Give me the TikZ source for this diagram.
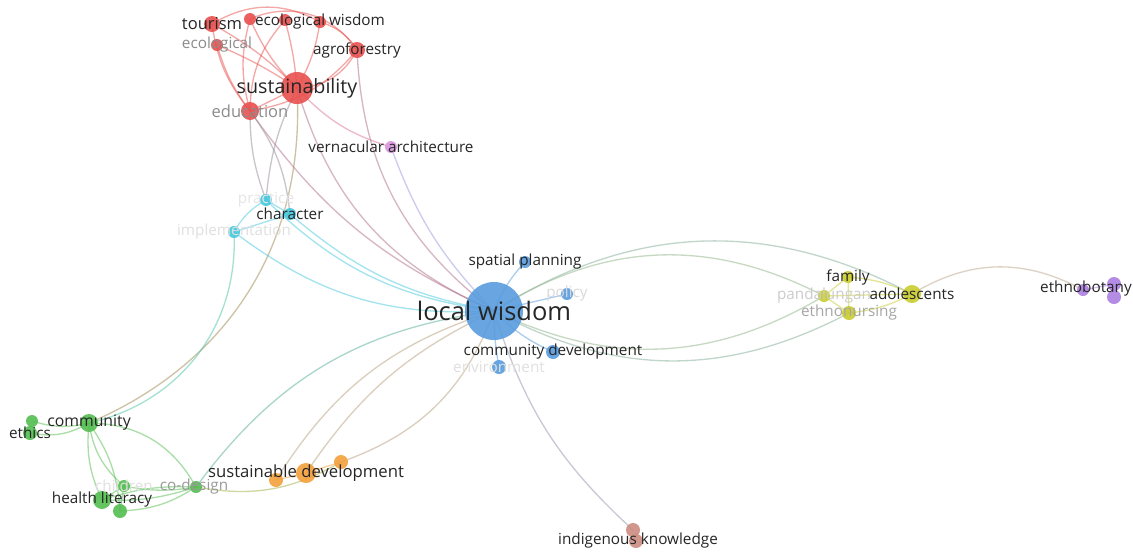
\documentclass[tikz,border=0pt]{standalone}
\usepackage{fontspec}
\setmainfont{Open Sans}
\usetikzlibrary{backgrounds}
\pgfdeclarelayer{links}
\pgfsetlayers{background,links,main}

\definecolor{cRed}{RGB}{232,80,78}
\definecolor{cGreen}{RGB}{84,190,80}
\definecolor{cBlue}{RGB}{88,156,222}
\definecolor{cYellow}{RGB}{200,204,46}
\definecolor{cPurple}{RGB}{172,128,226}
\definecolor{cCyan}{RGB}{70,200,222}
\definecolor{cOrange}{RGB}{244,160,60}
\definecolor{cBrown}{RGB}{204,140,128}
\definecolor{cPink}{RGB}{218,150,222}

\begin{document}
\begin{tikzpicture}[
    x=0.02cm, y=-0.02cm,
    dot/.style={circle, inner sep=0pt, draw=none, fill opacity=0.9, minimum size=#1*0.02cm},
    lbl/.style={font=\fontsize{8.7}{10}\selectfont, text=black!85, inner sep=0pt},
    dim/.style={lbl, text=black!#1},
    link/.style={draw=#1, line width=0.75pt, draw opacity=0.5}
]
\begin{pgfonlayer}{background}
\fill[white] (0,0) rectangle (1133,552);
\end{pgfonlayer}
\useasboundingbox (0,0) rectangle (1133,552);

% keyword circles
\node[dot=16, fill=cRed] (tourism) at (212,24) {};
\node[dot=12, fill=cRed] (ecowis1) at (250,19) {};
\node[dot=12, fill=cRed] (ecowis2) at (285,20) {};
\node[dot=12, fill=cRed] (ecowis) at (320,22) {};
\node[dot=12, fill=cRed] (ecolog) at (217,45) {};
\node[dot=16, fill=cRed] (agrofor) at (357,50) {};
\node[dot=32, fill=cRed] (sustain) at (297,88) {};
\node[dot=18, fill=cRed] (educ) at (250,111) {};
\node[dot=12, fill=cPink] (vernac) at (391,147) {};

\node[dot=12, fill=cCyan] (practice) at (266,200) {};
\node[dot=12, fill=cCyan] (charac) at (290,214) {};
\node[dot=12, fill=cCyan] (implem) at (234,232) {};

\node[dot=58, fill=cBlue] (locwis) at (494,311) {};
\node[dot=12, fill=cBlue] (spatial) at (525,262) {};
\node[dot=12, fill=cBlue] (policy) at (567,294) {};
\node[dot=14, fill=cBlue] (comdev) at (553,352) {};
\node[dot=14, fill=cBlue] (environ) at (499,367) {};

\node[dot=12, fill=cYellow] (family) at (848,277) {};
\node[dot=12, fill=cYellow] (pandal) at (824,296) {};
\node[dot=18, fill=cYellow] (adolesc) at (912,294) {};
\node[dot=14, fill=cYellow] (ethnurs) at (849,313) {};

\node[dot=12, fill=cPurple] (ethbot) at (1083,290) {};
\node[dot=14, fill=cPurple] (ethbota) at (1114,284) {};
\node[dot=14, fill=cPurple] (ethbotb) at (1114,297) {};

\node[dot=12, fill=cGreen] (ethicsa) at (32,421) {};
\node[dot=14, fill=cGreen] (ethicsb) at (30,433) {};
\node[dot=18, fill=cGreen] (commun) at (89,423) {};
\node[dot=12, fill=cGreen] (children) at (124,486) {};
\node[dot=18, fill=cGreen] (health) at (102,500) {};
\node[dot=14, fill=cGreen] (healthb) at (120,511) {};
\node[dot=12, fill=cGreen] (codesign) at (196,487) {};

\node[dot=14, fill=cOrange] (susdeva) at (276,480) {};
\node[dot=20, fill=cOrange] (susdev) at (306,473) {};
\node[dot=14, fill=cOrange] (susdevb) at (341,462) {};

\node[dot=14, fill=cBrown] (indiga) at (633,530) {};
\node[dot=14, fill=cBrown] (indig) at (636,541) {};

% links
\begin{pgfonlayer}{links}
\draw[link=cRed] (tourism.center) to[bend left=8] (sustain.center);
\draw[link=cRed] (tourism.center) to[bend right=15] (educ.center);
\draw[link=cRed] (tourism.center) to[bend left=30] (ecowis.center);
\draw[link=cRed] (ecolog.center) to[bend left=5] (sustain.center);
\draw[link=cRed] (ecolog.center) to[bend right=10] (educ.center);
\draw[link=cRed] (ecowis1.center) to[bend right=10] (sustain.center);
\draw[link=cRed] (ecowis1.center) to[bend right=15] (educ.center);
\draw[link=cRed] (ecowis1.center) to[bend left=40] (agrofor.center);
\draw[link=cRed] (ecowis2.center) to[bend left=5] (sustain.center);
\draw[link=cRed] (ecowis2.center) to[bend right=20] (educ.center);
\draw[link=cRed] (ecowis.center) to[bend left=10] (sustain.center);
\draw[link=cRed] (ecowis.center) to[bend left=20] (agrofor.center);
\draw[link=cRed] (agrofor.center) to[bend left=30] (sustain.center);
\draw[link=cRed] (agrofor.center) to[bend left=20] (educ.center);
\draw[link=cRed] (sustain.center) -- (educ.center);
\draw[link=cRed!50!cPink] (sustain.center) to[bend right=15] (vernac.center);
\draw[link=cRed!60!cBlue] (sustain.center) to[bend right=25] (locwis.center);
\draw[link=cRed!60!cBlue] (agrofor.center) to[bend right=25] (locwis.center);
\draw[link=cRed!60!cBlue] (educ.center) to[bend right=15] (locwis.center);
\draw[link=cRed!50!cCyan] (educ.center) to[bend right=10] (practice.center);
\draw[link=cRed!50!cCyan] (educ.center) to[bend left=15] (charac.center);
\draw[link=cRed!50!cCyan] (sustain.center) to[bend right=10] (practice.center);
\draw[link=cRed!50!cGreen] (sustain.center) to[bend left=35] (commun.center);
\draw[link=cPink!50!cBlue] (vernac.center) to[bend right=12] (locwis.center);

\draw[link=cCyan] (practice.center) -- (charac.center);
\draw[link=cCyan] (practice.center) to[bend right=15] (implem.center);
\draw[link=cCyan] (implem.center) -- (charac.center);
\draw[link=cCyan] (implem.center) to[bend right=20] (locwis.center);
\draw[link=cCyan] (charac.center) to[bend right=15] (locwis.center);
\draw[link=cCyan] (practice.center) to[bend right=18] (locwis.center);
\draw[link=cCyan!60!cGreen] (implem.center) to[bend left=40] (commun.center);

\draw[link=cBlue] (locwis.center) to[bend left=10] (spatial.center);
\draw[link=cBlue] (locwis.center) -- (policy.center);
\draw[link=cBlue] (locwis.center) to[bend right=10] (comdev.center);
\draw[link=cBlue] (locwis.center) to[bend right=5] (environ.center);
\draw[link=cBlue!60!cYellow] (locwis.center) to[bend left=30] (adolesc.center);
\draw[link=cBlue!50!cYellow] (locwis.center) to[bend left=30] (pandal.center);
\draw[link=cBlue!50!cYellow] (locwis.center) to[bend right=28] (pandal.center);
\draw[link=cBlue!60!cYellow] (locwis.center) to[bend right=28] (ethnurs.center);
\draw[link=cBlue!50!cBrown] (locwis.center) to[bend right=15] (indiga.center);

\draw[link=cYellow] (pandal.center) -- (family.center);
\draw[link=cYellow] (pandal.center) -- (ethnurs.center);
\draw[link=cYellow] (family.center) to[bend left=10] (adolesc.center);
\draw[link=cYellow] (ethnurs.center) to[bend right=10] (adolesc.center);
\draw[link=cYellow] (family.center) -- (ethnurs.center);
\draw[link=cYellow] (pandal.center) -- (adolesc.center);
\draw[link=cYellow!50!cPurple] (adolesc.center) to[bend left=30] (ethbot.center);
\draw[link=cPurple] (ethbot.center) -- (ethbota.center);

\draw[link=cGreen] (ethicsa.center) to[bend right=15] (commun.center);
\draw[link=cGreen] (ethicsb.center) to[bend right=20] (commun.center);
\draw[link=cGreen] (commun.center) to[bend right=20] (children.center);
\draw[link=cGreen] (commun.center) to[bend right=15] (health.center);
\draw[link=cGreen] (commun.center) to[bend left=15] (healthb.center);
\draw[link=cGreen] (commun.center) to[bend left=30] (codesign.center);
\draw[link=cGreen] (children.center) to[bend right=10] (codesign.center);
\draw[link=cGreen] (health.center) to[bend right=10] (codesign.center);
\draw[link=cGreen] (health.center) to[bend left=10] (codesign.center);
\draw[link=cGreen] (healthb.center) to[bend right=15] (codesign.center);
\draw[link=cGreen] (children.center) -- (health.center);
\draw[link=cGreen] (children.center) -- (healthb.center);
\draw[link=cGreen!50!cBlue] (codesign.center) to[bend left=23] (locwis.center);
\draw[link=cGreen!50!cOrange] (codesign.center) to[bend right=20] (susdevb.center);

\draw[link=cOrange!60!cBlue] (susdeva.center) to[bend left=20] (locwis.center);
\draw[link=cOrange!60!cBlue] (susdev.center) to[bend left=15] (locwis.center);
\draw[link=cOrange!60!cBlue] (susdevb.center) to[bend right=25] (locwis.center);
\draw[link=cOrange] (susdeva.center) -- (susdev.center);
\draw[link=cOrange] (susdev.center) -- (susdevb.center);
\end{pgfonlayer}

% labels
\node[lbl, font=\fontsize{9.4}{11}\selectfont] (tourism-l) at (tourism) {tourism};
\node[lbl] (ecowis-l) at (ecowis) {ecological wisdom};
\node[dim=45] (ecolog-l) at (ecolog) {ecological};
\node[lbl] (agrofor-l) at (agrofor) {agroforestry};
\node[lbl, font=\fontsize{11.2}{13}\selectfont] (sustain-l) at (sustain) {sustainability};
\node[dim=45, font=\fontsize{9.4}{11}\selectfont] (educ-l) at (educ) {education};
\node[lbl] (vernac-l) at (vernac) {vernacular architecture};
\node[dim=10] (practice-l) at (practice) {practice};
\node[lbl] (charac-l) at (charac) {character};
\node[dim=12] (implem-l) at (implem) {implementation};
\node[lbl, font=\fontsize{14.5}{17}\selectfont] (locwis-l) at (locwis) {local wisdom};
\node[lbl] (spatial-l) at (spatial) {spatial planning};
\node[dim=15] (policy-l) at (policy) {policy};
\node[lbl] (comdev-l) at (comdev) {community development};
\node[dim=12] (environ-l) at (environ) {environment};
\node[lbl] (family-l) at (family) {family};
\node[dim=20] (pandal-l) at (pandal) {pandalungan};
\node[lbl] (adolesc-l) at (adolesc) {adolescents};
\node[dim=35] (ethnurs-l) at (ethnurs) {ethnonursing};
\node[lbl] (ethbot-l) at (1086,289) {ethnobotany};
\node[lbl] (ethics-l) at (ethicsb) {ethics};
\node[lbl, font=\fontsize{9}{11}\selectfont] (commun-l) at (commun) {community};
\node[dim=12] (children-l) at (children) {children};
\node[lbl] (health-l) at (health) {health literacy};
\node[dim=40] (codesign-l) at (194,487) {co-design};
\node[lbl, font=\fontsize{9.5}{11}\selectfont] (susdev-l) at (susdev) {sustainable development};
\node[lbl] (indig-l) at (638,541) {indigenous knowledge};
\end{tikzpicture}
\end{document}
